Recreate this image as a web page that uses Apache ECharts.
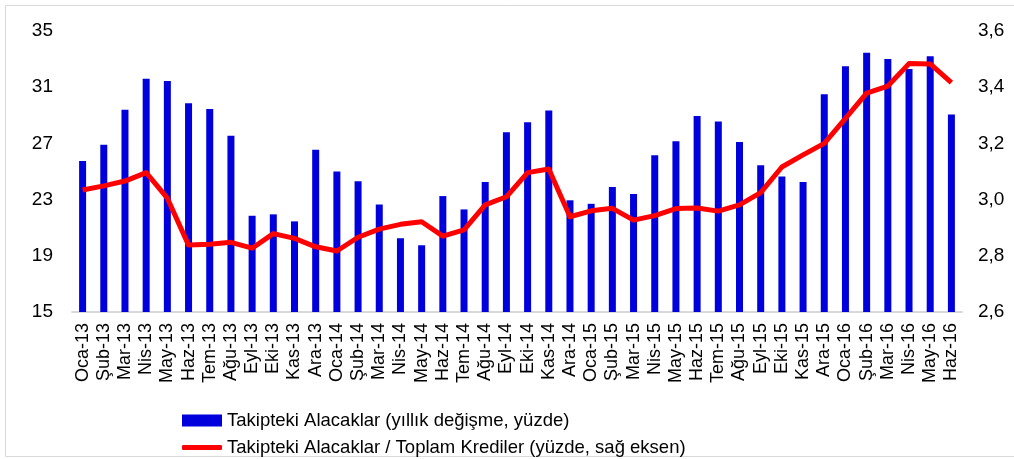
<!DOCTYPE html>
<html>
<head>
<meta charset="utf-8">
<script src="https://cdn.jsdelivr.net/npm/echarts@6/dist/echarts.min.js"></script>
<style>
html, body { margin: 0; padding: 0; background: #fff; }
#chart { width: 1014px; height: 459px; }
</style>
</head>
<body>
<div id="chart"></div>
<script>
var months = ['Oca-13','Şub-13','Mar-13','Nis-13','May-13','Haz-13','Tem-13','Ağu-13','Eyl-13','Eki-13','Kas-13','Ara-13',
    'Oca-14','Şub-14','Mar-14','Nis-14','May-14','Haz-14','Tem-14','Ağu-14','Eyl-14','Eki-14','Kas-14','Ara-14',
    'Oca-15','Şub-15','Mar-15','Nis-15','May-15','Haz-15','Tem-15','Ağu-15','Eyl-15','Eki-15','Kas-15','Ara-15',
    'Oca-16','Şub-16','Mar-16','Nis-16','May-16','Haz-16'];

// yıllık değişme (sol eksen)
var takipteki = [25.75, 26.9, 29.4, 31.6, 31.45, 29.85, 29.45, 27.55, 21.85, 21.95, 21.45, 26.55,
    25.0, 24.3, 22.65, 20.25, 19.75, 23.25, 22.3, 24.25, 27.8, 28.5, 29.35, 22.95,
    22.7, 23.9, 23.4, 26.15, 27.15, 28.95, 28.55, 27.1, 25.45, 24.65, 24.25, 30.5,
    32.5, 33.45, 33.0, 32.3, 33.2, 29.05];

// oran (sağ eksen)
var oran = [3.034, 3.049, 3.066, 3.096, 3.005, 2.838, 2.841, 2.848, 2.827, 2.879, 2.862, 2.832,
    2.817, 2.866, 2.895, 2.912, 2.921, 2.870, 2.892, 2.981, 3.010, 3.096, 3.109, 2.939,
    2.960, 2.969, 2.927, 2.943, 2.968, 2.970, 2.959, 2.981, 3.025, 3.116, 3.159, 3.200,
    3.289, 3.379, 3.404, 3.484, 3.483, 3.416];

var leftTicks = {min: 15, max: 35, interval: 4};
var rightTicks = {min: 2.6, max: 3.6, interval: 0.2};

var serieBar = 'Takipteki Alacaklar (yıllık değişme, yüzde)';
var serieLine = 'Takipteki Alacaklar / Toplam Krediler (yüzde, sağ eksen)';

var myChart = echarts.init(document.getElementById('chart'));
myChart.setOption({
    animation: false,
    textStyle: { fontFamily: 'Liberation Sans, Arial, sans-serif', color: '#000' },
    graphic: [{
        type: 'rect',
        shape: { x: 5.5, y: 5.5, width: 1020, height: 451 },
        style: { fill: 'none', stroke: '#d9d9d9', lineWidth: 1 },
        silent: true
    }],
    grid: { left: 72, right: 52, top: 31, bottom: 147 },
    // iki ayrı lejant, alt alta
    legend: [{
        left: 177,
        top: 406,
        itemWidth: 40,
        itemHeight: 12,
        textStyle: { fontSize: 18.5, color: '#000' },
        data: [{ name: serieBar, icon: 'rect' }]
    }, {
        left: 177,
        top: 433,
        itemWidth: 40,
        itemHeight: 5,
        textStyle: { fontSize: 18.5, color: '#000' },
        data: [{ name: serieLine, icon: 'roundRect' }]
    }],
    xAxis: {
        type: 'category',
        data: months,
        axisLine: { lineStyle: { color: '#d9d9d9', width: 2 } },
        axisTick: { length: 5, lineStyle: { color: '#d9d9d9', width: 2 } },
        axisLabel: { rotate: 90, margin: 11, fontSize: 18, color: '#000', interval: 0 }
    },
    yAxis: [{
        type: 'value',
        min: leftTicks.min, max: leftTicks.max, interval: leftTicks.interval,
        axisLine: { show: false },
        axisTick: { show: false },
        splitLine: { show: false },
        axisLabel: { fontSize: 19, color: '#000', margin: 19 }
    }, {
        type: 'value',
        min: rightTicks.min, max: rightTicks.max, interval: rightTicks.interval,
        axisLine: { show: false },
        axisTick: { show: false },
        splitLine: { show: false },
        axisLabel: {
            fontSize: 19, color: '#000', margin: 16,
            formatter: function (v) { return v.toFixed(1).replace('.', ','); }
        }
    }],
    series: [{
        name: serieBar,
        type: 'bar',
        data: takipteki,
        barWidth: 7,
        itemStyle: { color: '#0000dc' }
    }, {
        name: serieLine,
        type: 'line',
        yAxisIndex: 1,
        data: oran,
        symbol: 'none',
        lineStyle: { color: '#ff0000', width: 5, join: 'round' },
        itemStyle: { color: '#ff0000' }
    }]
});
</script>
</body>
</html>
